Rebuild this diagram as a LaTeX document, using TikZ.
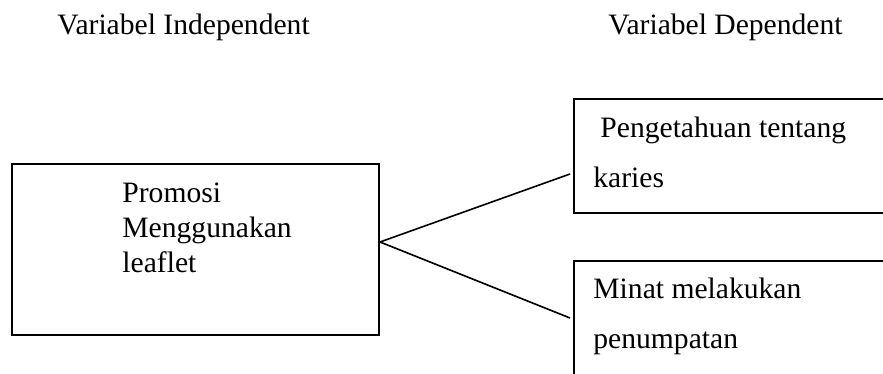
\documentclass[tikz,border=0pt]{standalone}
\usepackage{fontspec}
\setmainfont{Liberation Serif}
\usepackage{tikz}
\usetikzlibrary{calc}
\tikzset{
  varbox/.style={draw, line width=1pt, inner sep=0pt, anchor=north west},
  link/.style={line width=0.8pt},
  lbl/.style={font=\fontsize{14.8}{17.5}\selectfont, inner sep=0pt,
    anchor=base west},
}

\begin{document}
\begin{tikzpicture}[x=0.5pt, y=-0.5pt]
  \clip (0,0) rectangle (883,374);

  % headings
  \node[lbl] (indep) at (57,35) {Variabel Independent};
  \node[lbl] (dep) at (608,35) {Variabel Dependent};

  % boxes
  \node[varbox, minimum width=183.5pt, minimum height=85.5pt]
    (promosi) at (11,163) {};
  \node[varbox, minimum width=165pt, minimum height=57pt]
    (pengetahuan) at (573,98) {};
  \node[varbox, minimum width=165pt, minimum height=70pt]
    (minat) at (573,260) {};

  \foreach \txt/\yy [count=\i] in {Promosi/202,Menggunakan/237,leaflet/272} {
    \node[lbl] (promo\i) at (122,\yy) {\txt};
  }
  \node[lbl] (peng1) at (600,137) {Pengetahuan tentang};
  \node[lbl] (peng2) at (593,187) {karies};
  \node[lbl] (minat1) at (593,298) {Minat melakukan};
  \node[lbl] (minat2) at (593,348) {penumpatan};

  % connectors
  \coordinate (fork) at ($(promosi.east)+(0,-7.5)$);
  \draw[link] (fork) -- ($(pengetahuan.west)+(-3,18)$);
  \draw[link] (fork) -- ($(minat.north west)+(-3,58)$);
\end{tikzpicture}
\end{document}
